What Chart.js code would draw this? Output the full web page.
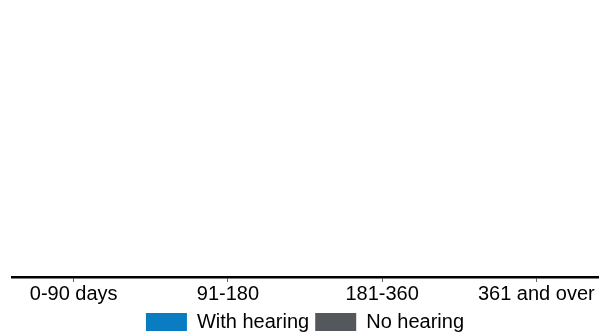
<!DOCTYPE html>
<html>
<head>
<meta charset="utf-8">
<script src="https://cdn.jsdelivr.net/npm/chart.js@4"></script>
<style>
  html, body { margin: 0; padding: 0; background: #fff; }
  #wrap { width: 613px; height: 335px; }
</style>
</head>
<body>
<div id="wrap"><canvas id="myChart"></canvas></div>
<script>
// categories on the x axis
const categories = ['0-90 days', '91-180', '181-360', '361 and over']
// no bars are visible in the picture, so every value is zero
const withHearing = [0, 0, 0, 0]
const noHearing = [0, 0, 0, 0]

var ctx = document.getElementById('myChart').getContext('2d')

var chart = new Chart(ctx, {
  type: 'bar',
  data: {
    datasets: [
      {
        label: 'With hearing',
        backgroundColor: '#0a7dc2',
        data: withHearing.map((v, i) => ({x: i, y: v})),
      },
      {
        label: 'No hearing',
        backgroundColor: '#54575b',
        data: noHearing.map((v, i) => ({x: i, y: v})),
      },
    ],
  },
  options: {
    responsive: true,
    maintainAspectRatio: false,
    animation: false,
    layout: {
      padding: {left: 12, right: 15, top: 10, bottom: -7},
    },
    plugins: {
      tooltip: {enabled: false},
      legend: {
        position: 'bottom',
        labels: {
          boxWidth: 41,
          boxHeight: 18,
          padding: 6,
          color: '#000',
          font: {family: 'Arial, "Liberation Sans", sans-serif', size: 20},
        },
      },
    },
    scales: {
      x: {
        type: 'linear',
        offset: false,
        min: -0.4,
        max: 3.4,
        afterBuildTicks: axis => {
          axis.ticks = categories.map((c, i) => ({value: i}))
        },
        border: {display: true, color: '#000', width: 2.5},
        grid: {
          offset: false,
          drawOnChartArea: false,
          drawTicks: true,
          tickLength: 5,
          color: '#666',
          lineWidth: 1,
        },
        ticks: {
          autoSkip: false,
          maxRotation: 0,
          padding: 0,
          color: '#000',
          font: {family: 'Arial, "Liberation Sans", sans-serif', size: 20},
          callback: value => categories[value],
        },
      },
      y: {
        display: false,
        min: 0,
        max: 100,
      },
    },
  },
})
</script>
</body>
</html>
